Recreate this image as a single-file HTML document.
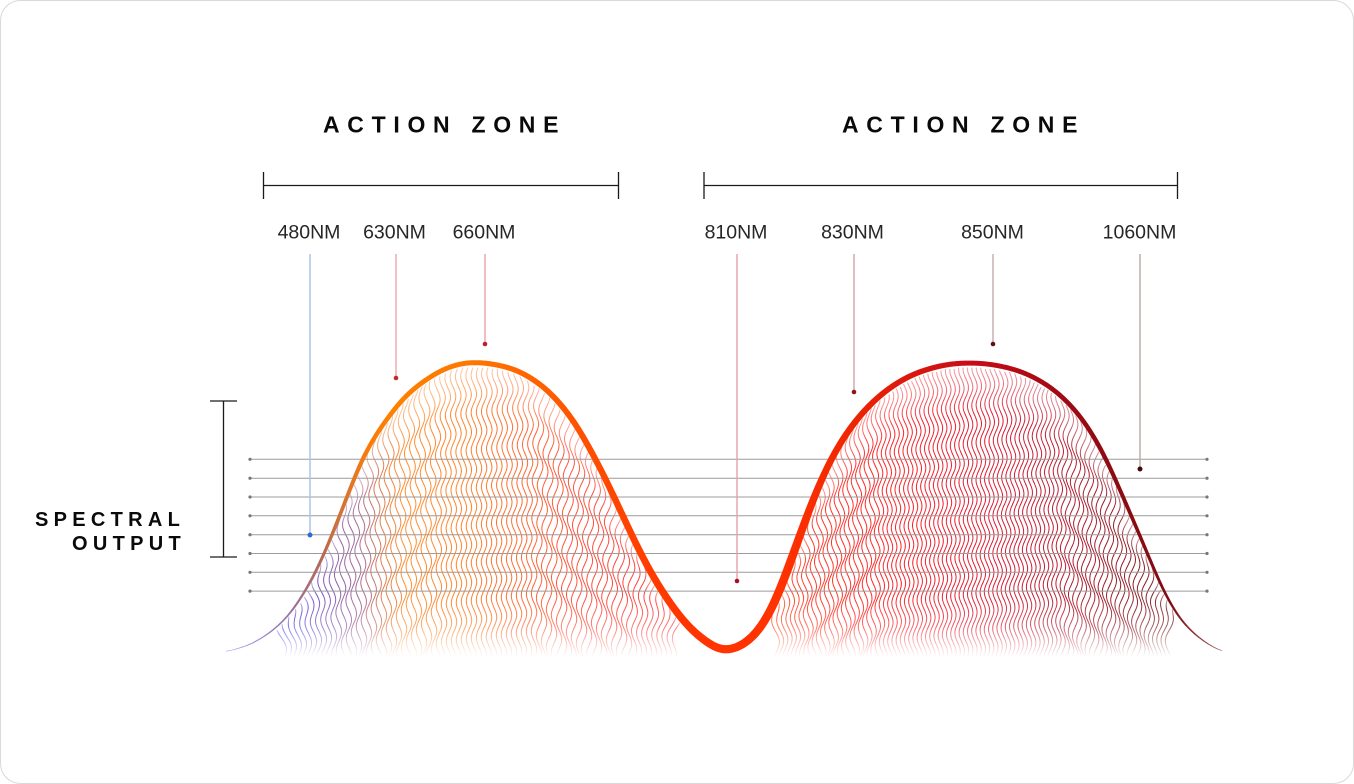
<!DOCTYPE html>
<html>
<head>
<meta charset="utf-8">
<style>
html,body{margin:0;padding:0;background:#fff;}
svg{display:block}
text{font-family:"Liberation Sans",Arial,sans-serif}
</style>
</head>
<body>
<svg id="s" width="1354" height="784" viewBox="0 0 1354 784" xmlns="http://www.w3.org/2000/svg">
<defs>
  <linearGradient id="curveGrad" gradientUnits="userSpaceOnUse" x1="226" y1="0" x2="1222" y2="0"></linearGradient>
  <linearGradient id="bf" gradientUnits="userSpaceOnUse" x1="0" y1="596" x2="0" y2="657">
    <stop offset="0" stop-color="#fff"/>
    <stop offset="0.5" stop-color="#b8b8b8"/>
    <stop offset="1" stop-color="#000"/>
  </linearGradient>
  <mask id="bottomFade" maskUnits="userSpaceOnUse" x="0" y="0" width="1354" height="784">
    <rect x="0" y="0" width="1354" height="784" fill="url(#bf)"/>
  </mask>
  <linearGradient id="tf" x1="0" y1="0" x2="0" y2="1">
    <stop offset="0" stop-color="#707070"/>
    <stop offset="0.16" stop-color="#fff"/>
    <stop offset="1" stop-color="#fff"/>
  </linearGradient>
  <mask id="topFade" maskUnits="userSpaceOnUse" x="0" y="0" width="1354" height="784" maskContentUnits="objectBoundingBox">
    <rect x="-5" y="0" width="11" height="1" fill="url(#tf)"/>
  </mask>
</defs>

<rect x="0.5" y="0.5" width="1353" height="783" rx="20" ry="20" fill="#fff" stroke="#d9d9d9" stroke-width="1"/>

<!-- Titles -->
<text x="323" y="132.3" font-size="23" font-weight="bold" letter-spacing="7.7" fill="#0a0a0a">ACTION ZONE</text>
<text x="842" y="132.3" font-size="23" font-weight="bold" letter-spacing="7.7" fill="#0a0a0a">ACTION ZONE</text>

<!-- Brackets -->
<g stroke="#1a1a1a" stroke-width="1.3" fill="none">
  <line x1="263.5" y1="185.5" x2="618.5" y2="185.5"/>
  <line x1="263.5" y1="172" x2="263.5" y2="199"/>
  <line x1="618.5" y1="172" x2="618.5" y2="199"/>
  <line x1="704" y1="185.5" x2="1177.5" y2="185.5"/>
  <line x1="704" y1="172" x2="704" y2="199"/>
  <line x1="1177.5" y1="172" x2="1177.5" y2="199"/>
  <line x1="223.5" y1="401" x2="223.5" y2="557"/>
  <line x1="210" y1="401" x2="237" y2="401"/>
  <line x1="210" y1="557" x2="237" y2="557"/>
</g>

<!-- Spectral output -->
<text x="35" y="526" font-size="20" font-weight="bold" letter-spacing="5.3" fill="#0a0a0a">SPECTRAL</text>
<text x="72" y="550" font-size="20" font-weight="bold" letter-spacing="5.3" fill="#0a0a0a">OUTPUT</text>

<!-- Wavelength labels -->
<g font-size="19.5" fill="#262626" text-anchor="middle">
  <text x="309" y="238.5">480NM</text>
  <text x="394.5" y="238.5">630NM</text>
  <text x="484" y="238.5">660NM</text>
  <text x="736" y="238.5">810NM</text>
  <text x="852.5" y="238.5">830NM</text>
  <text x="992.5" y="238.5">850NM</text>
  <text x="1139.5" y="238.5">1060NM</text>
</g>

<!-- wavy lines -->
<g id="lines" mask="url(#bottomFade)"></g>

<!-- horizontal guide lines -->
<g id="hlines"></g>

<!-- leader lines -->
<g stroke-width="1.4" fill="none">
  <line x1="310" y1="254" x2="310" y2="535" stroke="#a9bff0"/>
  <line x1="396" y1="254" x2="396" y2="378" stroke="#e9a9a9"/>
  <line x1="485" y1="254" x2="485" y2="344" stroke="#e9a3a6"/>
  <line x1="737" y1="254" x2="737" y2="581" stroke="#e2a3a8"/>
  <line x1="854" y1="254" x2="854" y2="392" stroke="#cfa4a4"/>
  <line x1="993" y1="254" x2="993" y2="344" stroke="#c3abab"/>
  <line x1="1140" y1="254" x2="1140" y2="469" stroke="#bca6a6"/>
</g>

<!-- main curve -->
<path id="curve" fill="url(#curveGrad)" d=""/>

<!-- dots -->
<g>
  <circle cx="310" cy="535" r="2.5" fill="#2f6bd8"/>
  <circle cx="396" cy="378" r="2.3" fill="#c42a2c"/>
  <circle cx="485" cy="344" r="2.3" fill="#c01e28"/>
  <circle cx="737" cy="581" r="2.3" fill="#a8101e"/>
  <circle cx="854" cy="392" r="2.3" fill="#8a1818"/>
  <circle cx="993" cy="344" r="2.3" fill="#5a1212"/>
  <circle cx="1140" cy="469" r="2.5" fill="#3e0e0e"/>
</g>
</svg>

<script>
(function(){
var NS="http://www.w3.org/2000/svg";
function mono(xs, ys){
  var n=xs.length, d=[], m=[], i;
  for(i=0;i<n-1;i++) d[i]=(ys[i+1]-ys[i])/(xs[i+1]-xs[i]);
  m[0]=d[0]; m[n-1]=d[n-2];
  for(i=1;i<n-1;i++){ if(d[i-1]*d[i]<=0) m[i]=0; else m[i]=(d[i-1]+d[i])/2; }
  for(i=0;i<n-1;i++){
    if(d[i]===0){m[i]=0;m[i+1]=0;continue;}
    var a=m[i]/d[i], b=m[i+1]/d[i], s=a*a+b*b;
    if(s>9){var t=3/Math.sqrt(s); m[i]=t*a*d[i]; m[i+1]=t*b*d[i];}
  }
  return function(x){
    if(x<=xs[0]) return ys[0];
    if(x>=xs[n-1]) return ys[n-1];
    var j=0; while(x>xs[j+1]) j++;
    var h=xs[j+1]-xs[j], t=(x-xs[j])/h, t2=t*t, t3=t2*t;
    return (2*t3-3*t2+1)*ys[j]+(t3-2*t2+t)*h*m[j]+(-2*t3+3*t2)*ys[j+1]+(t3-t2)*h*m[j+1];
  };
}
var P=[[226,652],[255,642],[287,617],[307,588],[320,563],[332,535],[347,497],[361,462],[374,438],[387,419],[403,399],[420,384],[447,368],[473,362.5],[495,364.5],[520,372],[548,391],[572,419],[590,449],[606,480],[622,514],[638,548],[654,578],[668,600],[682,619],[700,637],[725,650],[753,636.5],[770,612],[785,577],[800,535],[815,495],[830,461.5],[850,428.5],[875,400],[905,378.5],[940,366],[970,363],[1000,366],[1030,375.5],[1060,395],[1085,423],[1105,457],[1120,490],[1140,536],[1155,571.5],[1165,593.5],[1180,618.5],[1200,638.5],[1222,652]];
var CX=P.map(function(p){return p[0];}), CY=P.map(function(p){return p[1];});
var raw=mono(CX,CY);
var X0=150, X1=1300, SIG=6, R=18;
var rawArr=[], sm=[], i, j;
for(i=X0;i<=X1;i++) rawArr.push(raw(i));
var gw=[], gs=0;
for(j=-R;j<=R;j++){var g=Math.exp(-j*j/(2*SIG*SIG)); gw.push(g); gs+=g;}
for(i=0;i<rawArr.length;i++){
  var acc=0;
  for(j=-R;j<=R;j++){
    var k=i+j; if(k<0)k=0; if(k>=rawArr.length)k=rawArr.length-1;
    acc+=rawArr[k]*gw[j+R];
  }
  sm.push(acc/gs);
}
function curveY(x){
  var f=x-X0; if(f<0)f=0; if(f>sm.length-1.001)f=sm.length-1.001;
  var a=Math.floor(f), t=f-a;
  return sm[a]*(1-t)+sm[a+1]*t;
}
var W=[[226,0.6],[250,1.0],[287,1.7],[310,2.6],[331,3.4],[360,4.2],[400,4.8],[473,5],[540,5.5],[600,6.2],[660,7.2],[725,8.2],[790,8.5],[825,6.8],[880,5.8],[970,5],[1040,4.8],[1100,4.5],[1150,3.2],[1180,2],[1200,1.3],[1222,0.6]];
function lerpTab(tab,x){
  if(x<=tab[0][0]) return tab[0][1];
  if(x>=tab[tab.length-1][0]) return tab[tab.length-1][1];
  var i=0; while(x>tab[i+1][0]) i++;
  var t=(x-tab[i][0])/(tab[i+1][0]-tab[i][0]);
  return tab[i][1]+(tab[i+1][1]-tab[i][1])*t;
}
function width(x){return lerpTab(W,x);}

var CG=[[226,'#b4a8e8'],[265,'#9c84d2'],[295,'#9a6e98'],[320,'#b46a58'],[345,'#d87430'],[368,'#f87c0c'],[395,'#ff8000'],[470,'#ff7600'],[540,'#ff6000'],[610,'#ff4600'],[680,'#ff3500'],[780,'#ff3200'],[840,'#f22800'],[900,'#de1a0a'],[970,'#c80c18'],[1040,'#aa0a14'],[1100,'#920a12'],[1170,'#800c12'],[1222,'#a05a5a']];
var grad=document.getElementById('curveGrad');
CG.forEach(function(s){
  var st=document.createElementNS(NS,'stop');
  st.setAttribute('offset',((s[0]-226)/996).toFixed(4));
  st.setAttribute('stop-color',s[1]);
  grad.appendChild(st);
});

var up=[],dn=[];
for(var x=226;x<=1222;x+=1){
  var y=curveY(x);
  var d=curveY(x+0.5)-curveY(x-0.5);
  var nl=Math.sqrt(1+d*d), nx=-d/nl, ny=1/nl, w=width(x)/2;
  up.push((x-nx*w).toFixed(2)+','+(y-ny*w).toFixed(2));
  dn.push((x+nx*w).toFixed(2)+','+(y+ny*w).toFixed(2));
}
dn.reverse();
document.getElementById('curve').setAttribute('d','M'+up.join(' L')+' L'+dn.join(' L')+'Z');

var hg=document.getElementById('hlines');
[459.3,478.2,497,515.8,534.7,553.5,572.3,591.1].forEach(function(yy){
  var l=document.createElementNS(NS,'line');
  l.setAttribute('x1',250);l.setAttribute('x2',1207);
  l.setAttribute('y1',yy);l.setAttribute('y2',yy);
  l.setAttribute('stroke','#9c9c9c');l.setAttribute('stroke-width','1');
  hg.appendChild(l);
  [250,1207].forEach(function(cx){
    var c=document.createElementNS(NS,'circle');
    c.setAttribute('cx',cx);c.setAttribute('cy',yy);c.setAttribute('r','1.6');
    c.setAttribute('fill','#777');hg.appendChild(c);
  });
});

function hex(h){return [parseInt(h.slice(1,3),16),parseInt(h.slice(3,5),16),parseInt(h.slice(5,7),16)];}
function colAt(stops,x){
  if(x<=stops[0][0]) return stops[0][1];
  if(x>=stops[stops.length-1][0]) return stops[stops.length-1][1];
  var i=0; while(x>stops[i+1][0]) i++;
  var t=(x-stops[i][0])/(stops[i+1][0]-stops[i][0]);
  var a=hex(stops[i][1]), b=hex(stops[i+1][1]);
  return 'rgb('+Math.round(a[0]+(b[0]-a[0])*t)+','+Math.round(a[1]+(b[1]-a[1])*t)+','+Math.round(a[2]+(b[2]-a[2])*t)+')';
}
function slopeAt(sl,x){ var v=sl[0][1]; for(var i=0;i<sl.length;i++){ if(x>=sl[i][0]) v=sl[i][1]; } return v; }

var lg=document.getElementById('lines');
var K=2*Math.PI/37.6;
function hump(xs,xe,step,c,hw,slopes,cstops,A,F,ph0){
  var ph=ph0, px=xs;
  for(var x0=xs;x0<=xe+0.01;x0+=step){
    for(var xx=px;xx<x0;xx+=0.25){ ph+=slopeAt(slopes,xx)*0.25; }
    px=x0;
    var H=657-curveY(x0);
    if(H<22) continue;
    var s=(x0-c)/hw; if(s>1)s=1; if(s<-1)s=-1;
    var pts=[];
    for(var y=657;y>340;y-=1.5){
      var u=Math.min(1,(657-y)/H);
      var xv=x0+A*Math.sin(K*y+ph)+F*s*Math.pow(u,2.5);
      var lim=curveY(xv)+width(xv)/2+1.2;
      if(y<lim) break;
      pts.push(xv.toFixed(1)+' '+y.toFixed(1));
    }
    if(pts.length<3) continue;
    var p=document.createElementNS(NS,'path');
    p.setAttribute('d','M'+pts.join(' L'));
    p.setAttribute('fill','none');
    p.setAttribute('stroke',colAt(cstops,x0));
    p.setAttribute('stroke-width','1');
    p.setAttribute('stroke-opacity','0.95');
    p.setAttribute('mask','url(#topFade)');
    lg.appendChild(p);
  }
}
var leftStops=[[284,'#3434e8'],[300,'#4a40d8'],[318,'#6a4cc0'],[340,'#8a58a8'],[362,'#a86490'],[385,'#e07840'],[405,'#ff8a28'],[470,'#ff7a20'],[520,'#ff6226'],[570,'#ff4a30'],[630,'#ff3a34'],[680,'#ff3434']];
var rightStops=[[775,'#ff4a22'],[820,'#ff3020'],[880,'#ff1c1c'],[940,'#f01222'],[1000,'#d81028'],[1050,'#bc1028'],[1100,'#9c1020'],[1140,'#861018'],[1170,'#741418']];
hump(284,676,5.0,478,195,[[280,0.04],[335,0.2],[440,0.02],[535,-0.19],[635,-0.02]],leftStops,2.7,10,0);
hump(777,1168,4.2,972,195,[[775,0.04],[805,0.19],[880,0.02],[1060,-0.17],[1150,-0.02]],rightStops,2.7,10,1.2);
})();
</script>
</body>
</html>
